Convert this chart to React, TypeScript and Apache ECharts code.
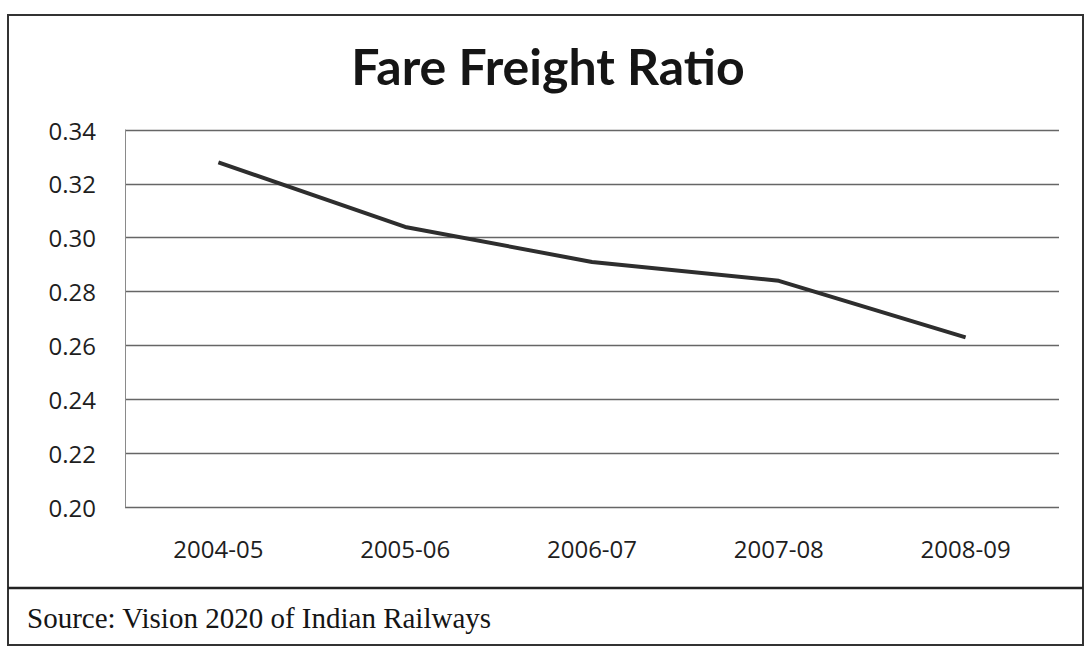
import React, { useEffect, useRef } from "react";
import * as echarts from "echarts";

const categories = ["2004-05", "2005-06", "2006-07", "2007-08", "2008-09"];
const ratioValues = [0.328, 0.304, 0.291, 0.284, 0.263];
const titleText = "Fare Freight Ratio";
const sourceText = "Source: Vision 2020 of Indian Railways";

export default function App() {
  const ref = useRef<HTMLDivElement>(null);
  useEffect(() => {
    if (!ref.current) return;
    const chart = echarts.init(ref.current, null, { renderer: "svg" });
    chart.setOption({
      animation: false,
      backgroundColor: "#ffffff",
      grid: { left: 125, right: 26, top: 130, bottom: 141 },
      xAxis: {
        type: "category",
        data: categories,
        boundaryGap: true,
        axisLine: { show: false },
        axisTick: { show: false },
        axisLabel: {
          margin: 29,
          fontFamily: "Open Sans",
          fontSize: 24,
          color: "#1e1e1e",
        },
      },
      yAxis: {
        type: "value",
        min: 0.2,
        max: 0.34,
        interval: 0.02,
        axisLine: { show: true, lineStyle: { color: "#8a8a8a", width: 1 } },
        axisTick: { show: false },
        axisLabel: {
          margin: 29,
          fontFamily: "Open Sans",
          fontSize: 24,
          color: "#1e1e1e",
          formatter: (v: number) => v.toFixed(2),
        },
        splitLine: { show: true, lineStyle: { color: "#666666", width: 1.3 } },
      },
      series: [
        {
          type: "line",
          data: ratioValues,
          showSymbol: false,
          symbol: "none",
          lineStyle: { color: "#2e2e2e", width: 4 },
        },
      ],
      graphic: [
        {
          type: "rect",
          shape: { x: 8, y: 15, width: 1075, height: 630 },
          style: { fill: "none", stroke: "#333", lineWidth: 2 },
          silent: true,
        },
        {
          type: "line",
          shape: { x1: 8, y1: 588, x2: 1083, y2: 588 },
          style: { stroke: "#222", lineWidth: 2.5 },
          silent: true,
        },
        {
          type: "text",
          x: 548,
          y: 66,
          style: {
            text: titleText,
            fontFamily: "Lato",
            fontWeight: "bold",
            fontSize: 50,
            fill: "#151515",
            align: "center",
            verticalAlign: "middle",
          },
        },
        {
          type: "text",
          x: 27,
          y: 618,
          style: {
            text: sourceText,
            fontFamily: "Liberation Serif",
            fontSize: 29,
            fill: "#151515",
            align: "left",
            verticalAlign: "middle",
          },
        },
      ],
    });
    return () => chart.dispose();
  }, []);
  return (
    <div
      ref={ref}
      style={{ position: "absolute", left: 0, top: 0, width: 1085, height: 648 }}
    />
  );
}
